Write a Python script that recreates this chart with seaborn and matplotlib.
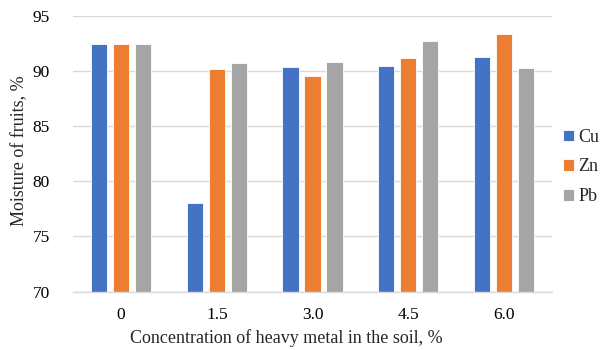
import matplotlib
matplotlib.use("Agg")
import matplotlib.pyplot as plt
import seaborn as sns
import pandas as pd

categories = ["0", "1.5", "3.0", "4.5", "6.0"]
cu = [92.5, 78.0, 90.4, 90.45, 91.25]
zn = [92.5, 90.2, 89.6, 91.2, 93.4]
pb = [92.5, 90.7, 90.8, 92.7, 90.3]
series = ["Cu", "Zn", "Pb"]
colors = ["#4472C4", "#ED7D31", "#A5A5A5"]

rows = []
for name, vals in zip(series, [cu, zn, pb]):
    for c, v in zip(categories, vals):
        rows.append({"conc": c, "metal": name, "value": v})
df = pd.DataFrame(rows)

sns.set_style("white")
plt.rcParams["font.family"] = ["Liberation Serif", "DejaVu Serif"]

W, H = 603, 350
fig = plt.figure(figsize=(6.03, 3.5), dpi=100)
x0, x1, y0, y1 = 73.3, 551.7, 16, 291.5
ax = fig.add_axes([x0 / W, 1 - y1 / H, (x1 - x0) / W, (y1 - y0) / H])

sns.barplot(data=df, x="conc", y="value", hue="metal", order=categories,
            hue_order=series, palette=colors, width=0.69, gap=0.25,
            ax=ax, edgecolor="white", linewidth=0.6, saturation=1)

ax.set_ylim(70, 95)
ax.set_xlim(-0.5, len(categories) - 0.5)
ax.set_yticks([70, 75, 80, 85, 90, 95])
ax.yaxis.grid(True, color="#D9D9D9", linewidth=1)
ax.set_axisbelow(True)
for s in ["top", "right", "left"]:
    ax.spines[s].set_visible(False)
ax.spines["bottom"].set_color("#D9D9D9")
ax.spines["bottom"].set_linewidth(1)
ax.tick_params(axis="both", length=0, labelsize=12.5, colors="#000000")
ax.tick_params(axis="x", pad=11)
ax.tick_params(axis="y", pad=17)
ax.set_xlabel("Concentration of heavy metal in the soil, %", fontsize=13)
ax.set_ylabel("Moisture of fruits, %", fontsize=13)
ax.xaxis.label.set_va("center")
ax.xaxis.set_label_coords((286 - x0) / (x1 - x0), -(338 - y1) / (y1 - y0))
ax.yaxis.set_label_coords(-(x0 - 20) / (x1 - x0), (y1 - 151) / (y1 - y0))
ax.yaxis.label.set_va("center")

ax.legend(title=None, frameon=False, loc="center left",
          bbox_to_anchor=(562.7 / W, 1 - 167 / H), bbox_transform=fig.transFigure,
          borderpad=0, borderaxespad=0,
          fontsize=13, handlelength=0.6, handleheight=0.6, handletextpad=0.25,
          labelspacing=0.7)

fig.savefig("out.png", dpi=100)
